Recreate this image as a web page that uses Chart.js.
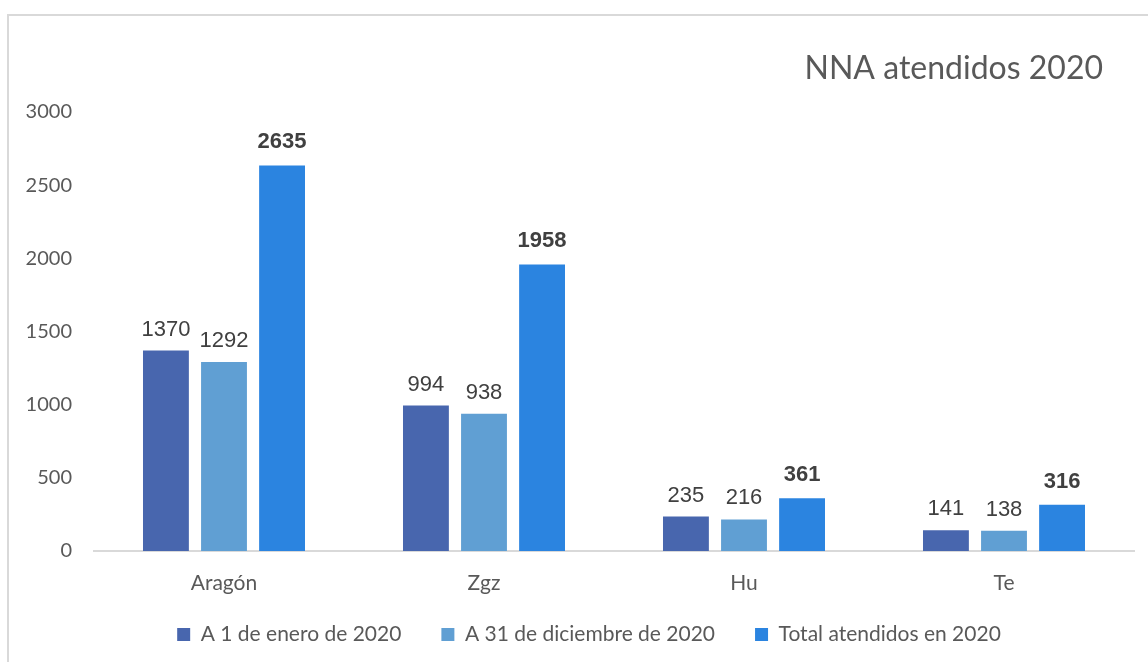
<!DOCTYPE html>
<html>
<head>
<meta charset="utf-8">
<script src="https://cdn.jsdelivr.net/npm/chart.js@4/dist/chart.umd.min.js"></script>
<style>
  html, body { margin: 0; padding: 0; background: #fff; overflow: hidden; }
  #frame { position: absolute; left: 7px; top: 14px; width: 1160px; height: 670px; border: 2px solid #d9d9d9; }
  #wrap { position: absolute; left: 0; top: 0; width: 1148px; height: 662px; }
</style>
</head>
<body>
<div id="frame"></div>
<div id="wrap"><canvas id="chart" width="1148" height="662"></canvas></div>
<script>
// data
const categories = ['Aragón', 'Zgz', 'Hu', 'Te'];
const seriesNames = ['A 1 de enero de 2020', 'A 31 de diciembre de 2020', 'Total atendidos en 2020'];
const enero = [1370, 994, 235, 141];
const diciembre = [1292, 938, 216, 138];
const total = [2635, 1958, 361, 316];
const yTicks = [0, 500, 1000, 1500, 2000, 2500, 3000];
const chartTitle = 'NNA atendidos 2020';

const colors = ['#4866ae', '#609fd3', '#2b84e0'];
const textGray = '#595959';

// draws the value above each bar, totals in bold
const valueLabels = {
  id: 'valueLabels',
  afterDatasetsDraw(chart) {
    const ctx = chart.ctx;
    ctx.save();
    ctx.textAlign = 'center';
    ctx.textBaseline = 'alphabetic';
    ctx.fillStyle = '#404040';
    chart.data.datasets.forEach((ds, i) => {
      const meta = chart.getDatasetMeta(i);
      ctx.font = (i === 2 ? 'bold ' : '') + '22px "Liberation Sans", Arial, sans-serif';
      meta.data.forEach((bar, j) => {
        ctx.fillText(String(ds.data[j]), bar.x, bar.y - (i === 2 ? 17 : 15));
      });
    });
    ctx.restore();
  }
};

// title sits top right, inside the plot width
const cornerTitle = {
  id: 'cornerTitle',
  afterDraw(chart) {
    const ctx = chart.ctx;
    ctx.save();
    ctx.font = '32px Lato, "Open Sans", sans-serif';
    ctx.fillStyle = textGray;
    ctx.textAlign = 'right';
    ctx.textBaseline = 'alphabetic';
    ctx.fillText(chartTitle, chart.chartArea.right - 31, 79);
    ctx.restore();
  }
};

// legend padding is wide for item spacing, nudge the box into place
const moveLegend = {
  id: 'moveLegend',
  afterLayout(chart) {
    const lg = chart.legend;
    lg.top -= 11;
    lg.bottom -= 11;
    lg.left += 22;
    lg.right += 22;
  }
};

new Chart(document.getElementById('chart'), {
  type: 'bar',
  data: {
    labels: categories,
    datasets: [
      { label: seriesNames[0], data: enero, backgroundColor: colors[0] },
      { label: seriesNames[1], data: diciembre, backgroundColor: colors[1] },
      { label: seriesNames[2], data: total, backgroundColor: colors[2] }
    ]
  },
  options: {
    responsive: false,
    animation: false,
    categoryPercentage: 0.67,
    barPercentage: 0.79,
    layout: { padding: { left: 0, right: 14, top: 112, bottom: 0 } },
    scales: {
      x: {
        afterFit(scale) { scale.height = 44; },
        grid: { display: false, drawTicks: false },
        border: { display: true, color: '#d9d9d9', width: 2 },
        ticks: { color: textGray, font: { family: 'Lato', size: 21 }, padding: 20 }
      },
      y: {
        min: 0,
        max: 3000,
        afterFit(scale) { scale.width = 94; },
        afterBuildTicks(scale) { scale.ticks = yTicks.map(v => ({ value: v })); },
        grid: { display: false, drawTicks: false },
        border: { display: false },
        ticks: {
          color: textGray,
          font: { family: 'Lato', size: 20 },
          padding: 22,
          callback: v => String(v)
        }
      }
    },
    plugins: {
      legend: {
        position: 'bottom',
        maxHeight: 67,
        labels: {
          color: textGray,
          font: { family: 'Lato', size: 21 },
          boxWidth: 13,
          boxHeight: 13,
          padding: 40
        }
      },
      tooltip: { enabled: false },
      title: { display: false }
    }
  },
  plugins: [valueLabels, cornerTitle, moveLegend]
});
</script>
</body>
</html>
